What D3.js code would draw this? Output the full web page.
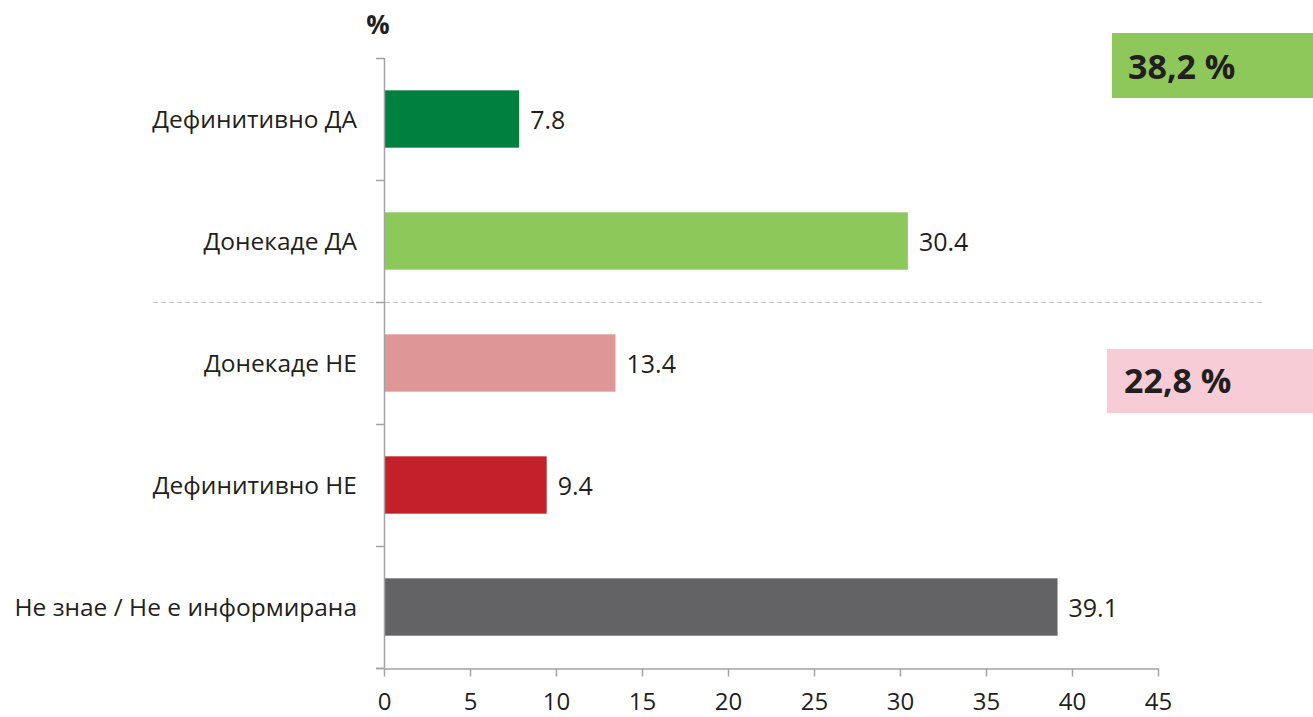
<!DOCTYPE html>
<html>
<head>
<meta charset="utf-8">
<script src="https://cdn.jsdelivr.net/npm/d3@7"></script>
<style>
  html, body { margin: 0; padding: 0; background: #fff; }
  svg { display: block; font-family: "Open Sans", "Noto Sans", sans-serif; }
</style>
</head>
<body>
<svg id="chart" width="1313" height="717"></svg>
<script>
// Survey answers and their shares (%)
const categories = ["Дефинитивно ДА", "Донекаде ДА", "Донекаде НЕ", "Дефинитивно НЕ", "Не знае / Не е информирана"];
const values = [7.8, 30.4, 13.4, 9.4, 39.1];
const barColors = ["#00803f", "#8dc85a", "#df9696", "#c4202a", "#636365"];
const xTicks = [0, 5, 10, 15, 20, 25, 30, 35, 40, 45];
const summaryLabels = ["38,2 %", "22,8 %"];
const summaryColors = ["#8ec85a", "#f8ccd6"];

(function () {
  const svg = d3.select("#chart");
  const axisColor = "#a3a3a3";
  const textColor = "#231f20";

  const plotLeft = 384, plotRight = 1158, plotTop = 58, plotBottom = 668;

  const x = d3.scaleLinear().domain([0, 45]).range([plotLeft, plotRight]);
  const y = d3.scaleBand().domain(categories).range([plotTop, plotBottom]).paddingInner(0.53).paddingOuter(0.265);
  const yOuter = d3.scaleBand().domain(categories).range([plotTop, plotBottom]);

  // Divider between the positive and negative answers
  svg.append("line")
    .attr("x1", 153).attr("x2", 1265)
    .attr("y1", yOuter(categories[2]) + 0.5).attr("y2", yOuter(categories[2]) + 0.5)
    .attr("stroke", "#c4c4c4").attr("stroke-width", 1).attr("stroke-dasharray", "5,3");

  // Bars
  svg.append("g").selectAll("rect")
    .data(values)
    .join("rect")
    .attr("x", x(0) + 1)
    .attr("y", (d, i) => y(categories[i]))
    .attr("width", d => x(d) - x(0))
    .attr("height", y.bandwidth())
    .attr("fill", (d, i) => barColors[i]);

  // Value labels
  svg.append("g").selectAll("text")
    .data(values)
    .join("text")
    .attr("x", d => x(d) + 12)
    .attr("y", (d, i) => y(categories[i]) + y.bandwidth() / 2 + 1)
    .attr("dy", "0.36em")
    .style("font-size", "25px")
    .attr("fill", textColor)
    .text(d => d.toFixed(1));

  // Y axis with boundary ticks
  const yAxis = svg.append("g");
  yAxis.append("line")
    .attr("x1", plotLeft + 0.5).attr("x2", plotLeft + 0.5)
    .attr("y1", plotTop).attr("y2", plotBottom)
    .attr("stroke", axisColor).attr("stroke-width", 1.5);
  const bounds = categories.map(c => yOuter(c)).concat([plotBottom]);
  yAxis.selectAll("line.tick")
    .data(bounds)
    .join("line")
    .attr("class", "tick")
    .attr("x1", plotLeft - 8).attr("x2", plotLeft)
    .attr("y1", d => d + 0.5).attr("y2", d => d + 0.5)
    .attr("stroke", axisColor).attr("stroke-width", 1.5);

  // Category labels
  svg.append("g").selectAll("text")
    .data(categories)
    .join("text")
    .attr("x", 357)
    .attr("y", d => yOuter(d) + yOuter.bandwidth() / 2)
    .attr("dy", "0.36em")
    .attr("text-anchor", "end")
    .style("font-size", "24.5px")
    .attr("fill", textColor)
    .text(d => d);

  // X axis
  const xAxis = svg.append("g")
    .attr("transform", `translate(0,${plotBottom + 0.5})`)
    .call(d3.axisBottom(x).tickValues(xTicks).tickSize(8).tickSizeOuter(0).tickPadding(16).tickFormat(d3.format("d")));
  xAxis.select(".domain").attr("stroke", axisColor).attr("stroke-width", 1.5);
  xAxis.selectAll(".tick line").attr("stroke", axisColor).attr("stroke-width", 1.5);
  xAxis.selectAll(".tick text")
    .style("font-size", "24px").attr("fill", textColor)
    .style("font-family", "'Open Sans', 'Noto Sans', sans-serif");
  xAxis.append("line").attr("x1", plotLeft - 8).attr("x2", plotLeft).attr("y1", 0).attr("y2", 0)
    .attr("stroke", axisColor).attr("stroke-width", 1.5);

  // Unit label
  svg.append("text")
    .attr("x", 378).attr("y", 34)
    .attr("text-anchor", "middle")
    .style("font-size", "26px").attr("font-weight", "bold")
    .attr("fill", textColor)
    .text("%");

  // Summary boxes
  const boxes = [
    { x: 1112, y: 33, h: 65, tx: 1128, base: 79 },
    { x: 1107, y: 349, h: 64, tx: 1124, base: 393 }
  ];
  boxes.forEach((b, i) => {
    svg.append("rect")
      .attr("x", b.x).attr("y", b.y).attr("width", 1313 - b.x).attr("height", b.h)
      .attr("fill", summaryColors[i]);
    svg.append("text")
      .attr("x", b.tx).attr("y", b.base)
      .style("font-size", "34px").attr("font-weight", "bold")
      .attr("fill", textColor)
      .text(summaryLabels[i]);
  });
})();
</script>
</body>
</html>
